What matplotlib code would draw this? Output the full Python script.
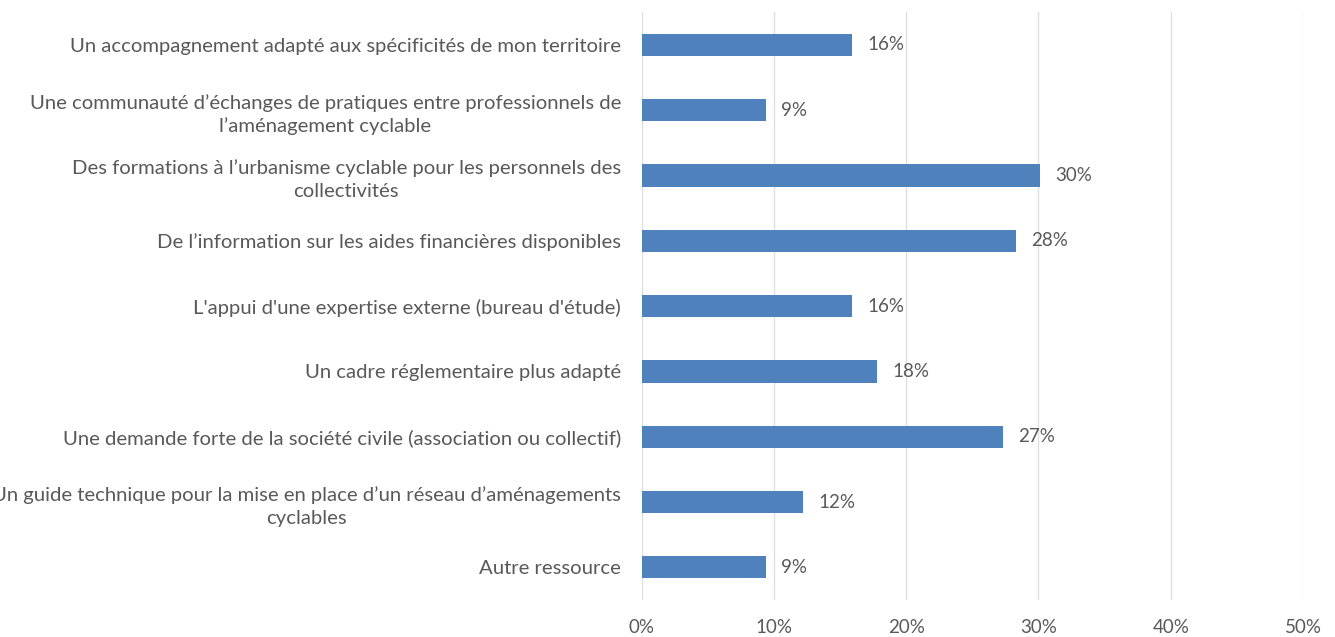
import matplotlib
matplotlib.use("Agg")
import matplotlib.pyplot as plt
from matplotlib.ticker import FuncFormatter


CATEGORIES = [
    "Un accompagnement adapté aux spécificités de mon territoire",
    "Une communauté d’échanges de pratiques entre professionnels de\nl’aménagement cyclable",
    "Des formations à l’urbanisme cyclable pour les personnels des\ncollectivités",
    "De l’information sur les aides financières disponibles",
    "L'appui d'une expertise externe (bureau d'étude)",
    "Un cadre réglementaire plus adapté",
    "Une demande forte de la société civile (association ou collectif)",
    "Un guide technique pour la mise en place d’un réseau d’aménagements\ncyclables",
    "Autre ressource",
]
VALUES = [15.9, 9.4, 30.1, 28.3, 15.9, 17.8, 27.3, 12.2, 9.4]
XTICKS = [0, 10, 20, 30, 40, 50]

BAR_COLOR = "#4f81bd"
TEXT_COLOR = "#595959"
GRID_COLOR = "#e0e0e0"


def main():
    plt.rcParams["font.family"] = ["Lato", "DejaVu Sans"]

    fig = plt.figure(figsize=(13.35, 6.37), dpi=100)
    ax = fig.add_axes([0.4807, 0.058, 0.4953, 0.923])

    pos = list(range(len(CATEGORIES)))
    ax.barh(pos, VALUES, height=0.34, color=BAR_COLOR, zorder=3)

    for y, v in zip(pos, VALUES):
        ax.annotate(f"{round(v):.0f}%", (v, y), xytext=(11, 0), textcoords="offset points",
                    va="center", ha="left", fontsize=13.5, color=TEXT_COLOR)

    ax.set_xlim(0, 50)
    ax.set_ylim(len(CATEGORIES) - 0.5, -0.5)
    ax.set_xticks(XTICKS)
    ax.xaxis.set_major_formatter(FuncFormatter(lambda x, _: f"{x:.0f}%"))
    ax.set_yticks(pos)
    ax.set_yticklabels(CATEGORIES, multialignment="center", linespacing=1.4)

    ax.tick_params(axis="y", length=0, labelsize=14.6, labelcolor=TEXT_COLOR, pad=15)
    ax.tick_params(axis="x", length=0, labelsize=13.5, labelcolor=TEXT_COLOR, pad=14)
    ax.grid(axis="x", color=GRID_COLOR, linewidth=1, zorder=0)
    for spine in ax.spines.values():
        spine.set_visible(False)

    fig.savefig("out.png", dpi=100)
    plt.close(fig)


if __name__ == "__main__":
    main()
